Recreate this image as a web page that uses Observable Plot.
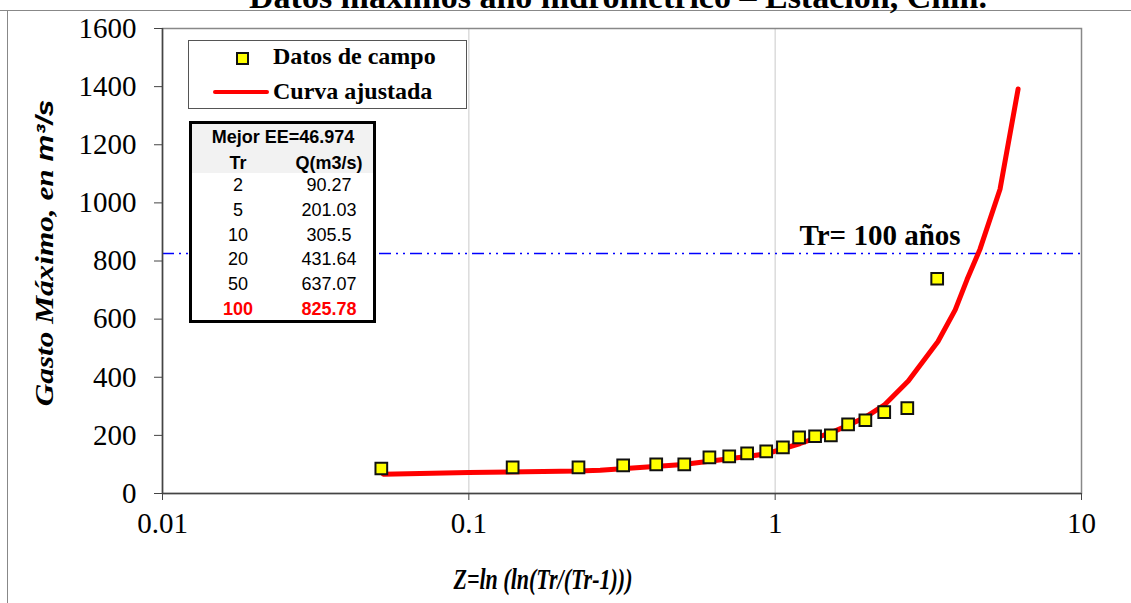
<!DOCTYPE html>
<html>
<head>
<meta charset="utf-8">
<script src="https://cdn.jsdelivr.net/npm/d3@7"></script>
<script src="https://cdn.jsdelivr.net/npm/@observablehq/plot@0.6"></script>
<style>
  body { margin: 0; background: #fff; }
  #wrap { position: relative; width: 1131px; height: 603px; overflow: hidden; font-family: "Liberation Serif", "Times New Roman", serif; }
  #wrap svg { position: absolute; left: 0; top: 0; }
  .frameTop { position: absolute; left: 0; top: 10px; width: 1131px; height: 0; border-top: 1.5px solid #888; }
  .frameLeft { position: absolute; left: 7px; top: 10px; width: 0; height: 600px; border-left: 1.5px solid #888; }
  .title { position: absolute; left: 0; width: 1131px; top: -20px; text-align: center; font-weight: bold; font-size: 34px; line-height: 34px; padding-left: 105px; box-sizing: border-box; white-space: nowrap; }
  .legend { position: absolute; left: 188px; top: 40px; width: 279px; height: 69px; border: 1.5px solid #555; background: #fff; box-sizing: border-box; }
  .legend .lbl { position: absolute; left: 84px; font-weight: bold; font-size: 24px; white-space: nowrap; }
  .legend .sq { position: absolute; left: 47px; top: 11px; width: 9px; height: 9px; background: #ffff00; border: 2px solid #111; }
  .legend .ln { position: absolute; left: 24px; top: 49px; width: 56px; height: 4px; background: #ff0000; border-radius: 2px; }
  .table { position: absolute; left: 189px; top: 121px; width: 187px; height: 202px; border: 3px solid #000; box-sizing: border-box; background: #fff; font-family: "Liberation Sans", Arial, sans-serif; font-size: 18px; }
  .table .hdr { position: absolute; left: 0; top: 0; width: 100%; height: 49px; background: #f2f2f2; }
  .table .cell { position: absolute; transform: translate(-50%, -50%); white-space: nowrap; }
  .ylab { position: absolute; left: 45px; top: 253px; transform: translate(-50%, -50%) rotate(-90deg) scaleX(1.25); font-weight: bold; font-style: italic; font-size: 25px; white-space: nowrap; }
  .ylab .sans { font-family: "Liberation Sans", Arial, sans-serif; font-size: 24px; }
  .xlab { position: absolute; left: 543px; top: 580px; transform: translate(-50%, -50%) scaleY(1.3); font-weight: bold; font-style: italic; font-size: 22px; white-space: nowrap; }
</style>
</head>
<body>
<div id="wrap"></div>
<script>
// Field data (Z, Q)
const fieldZ = [0.0518, 0.139, 0.228, 0.319, 0.409, 0.505, 0.61, 0.708, 0.81, 0.935, 1.06, 1.197, 1.35, 1.52, 1.73, 1.97, 2.27, 2.70, 3.38];
const fieldQ = [86, 90, 90, 97, 100, 100, 124, 128, 138, 145, 159, 193, 197, 200, 238, 252, 280, 294, 739];
// Fitted curve (Z, Q)
const curveZ = [0.0526, 0.1, 0.2275, 0.2685, 0.501, 0.81, 0.942, 1.207, 1.545, 1.73, 1.966, 2.268, 2.72, 3.40, 3.87, 4.23, 4.66, 5.42, 6.21];
const curveQ = [66, 72, 77, 80, 100, 127, 137, 172, 212, 235, 262, 304, 387, 523, 632, 736, 840, 1047, 1392];
// Tr = 100 line
const tr100Q = 825.78;
const tr100Label = "Tr= 100 años";
const tr100LabelZ = 2.2;
// Axis ticks
const xTicks = [0.01, 0.1, 1, 10];
const xTickLabels = ["0.01", "0.1", "1", "10"];
const yTicks = [0, 200, 400, 600, 800, 1000, 1200, 1400, 1600];
const xGrid = [0.1, 1];
// Table
const tableTitle = "Mejor EE=46.974";
const tableHeaders = ["Tr", "Q(m3/s)"];
const tableTr = ["2", "5", "10", "20", "50", "100"];
const tableQ = ["90.27", "201.03", "305.5", "431.64", "637.07", "825.78"];

const idx = d3.range(fieldZ.length);
const cidx = d3.range(curveZ.length);

const chart = Plot.plot({
  width: 1131,
  height: 603,
  marginLeft: 162,
  marginRight: 50,
  marginTop: 28,
  marginBottom: 110,
  style: { fontFamily: "'Liberation Serif', 'Times New Roman', serif", background: "transparent", overflow: "visible", color: "#000" },
  x: { type: "log", domain: [0.01, 10] },
  y: { domain: [0, 1600] },
  marks: [
    Plot.ruleX(xGrid, { stroke: "#d6d6d6", strokeWidth: 1.3 }),
    Plot.frame({ stroke: "#888", strokeWidth: 1.5 }),
    Plot.ruleY([tr100Q], { stroke: "#0000ff", strokeWidth: 1.5, strokeDasharray: "12,5,2,5,2,5" }),
    Plot.text([tr100Label], { x: () => tr100LabelZ, y: () => tr100Q, text: d => d, dy: -18, fontSize: 29, fontWeight: "bold", fill: "#000" }),
    Plot.line(cidx, { x: i => curveZ[i], y: i => curveQ[i], stroke: "#ff0000", strokeWidth: 5, strokeLinecap: "round", strokeLinejoin: "round" }),
    Plot.dot(idx, { x: i => fieldZ[i], y: i => fieldQ[i], symbol: "square", r: 6.6, fill: "#ffff00", stroke: "#111", strokeWidth: 2 }),
    Plot.ruleX([0.01], { stroke: "#444", strokeWidth: 1.5 }),
    Plot.ruleY([0], { stroke: "#444", strokeWidth: 1.5 }),
    Plot.axisX({ ticks: xTicks, tickFormat: d => xTickLabels[xTicks.indexOf(d)], tickSize: 7, tickPadding: 12, fontSize: 29, label: null, stroke: "#444", fill: "#000" }),
    Plot.axisY({ ticks: yTicks, tickFormat: d => String(d), tickSize: 8, tickPadding: 18, fontSize: 29, label: null, stroke: "#444", fill: "#000" })
  ]
});

const wrap = document.getElementById("wrap");
wrap.appendChild(chart);

function add(html) { wrap.insertAdjacentHTML("beforeend", html); }
add('<div class="frameTop"></div><div class="frameLeft"></div>');
add('<div class="title">Datos máximos año hidrométrico – Estación, Chih.</div>');
add('<div class="legend"><div class="sq"></div><div class="lbl" style="top:2px">Datos de campo</div><div class="ln"></div><div class="lbl" style="top:37px">Curva ajustada</div></div>');

let t = '<div class="table"><div class="hdr"></div>';
t += `<div class="cell" style="left:91px;top:13px;font-weight:bold">${tableTitle}</div>`;
t += `<div class="cell" style="left:46px;top:39px;font-weight:bold">${tableHeaders[0]}</div>`;
t += `<div class="cell" style="left:137px;top:39px;font-weight:bold">${tableHeaders[1]}</div>`;
tableTr.forEach((tr, i) => {
  const last = i === tableTr.length - 1;
  const st = last ? "color:#ff0000;font-weight:bold;" : "";
  const top = 61 + i * 24.8;
  t += `<div class="cell" style="left:46px;top:${top}px;${st}">${tr}</div>`;
  t += `<div class="cell" style="left:137px;top:${top}px;${st}">${tableQ[i]}</div>`;
});
t += '</div>';
add(t);
add('<div class="ylab">Gasto Máximo, en <span class="sans">m³/s</span></div>');
add('<div class="xlab">Z=ln (ln(Tr/(Tr-1)))</div>');
</script>
</body>
</html>
